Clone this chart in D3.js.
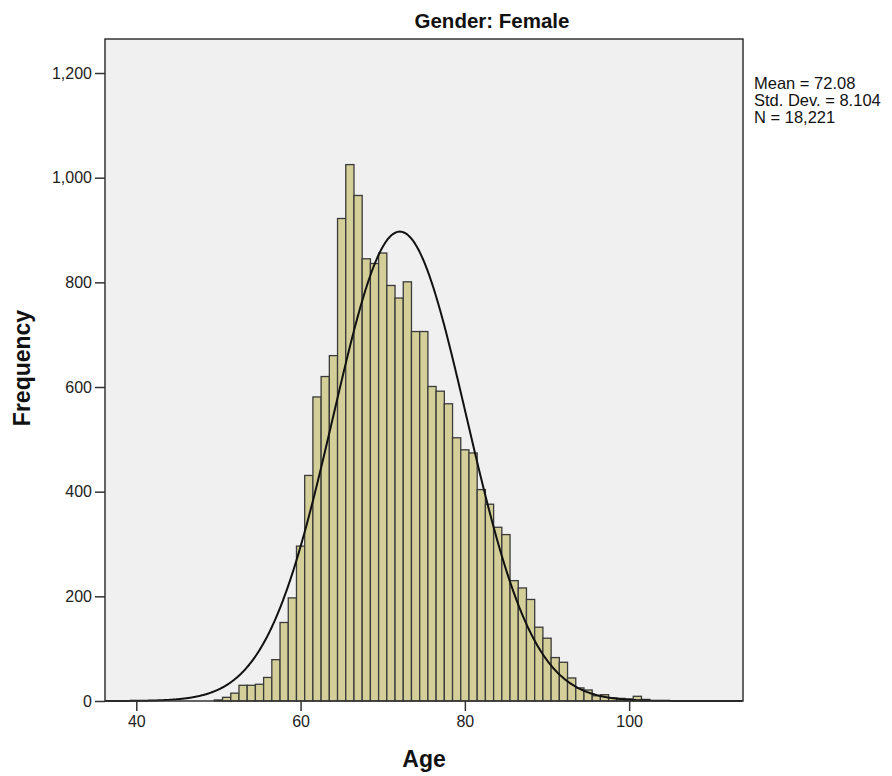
<!DOCTYPE html>
<html>
<head>
<meta charset="utf-8">
<script src="https://cdn.jsdelivr.net/npm/d3@7"></script>
<style>
  body { margin: 0; background: #fff; }
  svg { display: block; font-family: "Liberation Sans", Arial, sans-serif; }
</style>
</head>
<body>
<svg id="chart" width="892" height="776"></svg>
<script>
// Age histogram (1-year bins centred on whole ages)
const ages = [50, 51, 52, 53, 54, 55, 56, 57, 58, 59,
              60, 61, 62, 63, 64, 65, 66, 67, 68, 69,
              70, 71, 72, 73, 74, 75, 76, 77, 78, 79,
              80, 81, 82, 83, 84, 85, 86, 87, 88, 89,
              90, 91, 92, 93, 94, 95, 96, 97, 98, 99,
              100, 101, 102];
const counts = [2, 7, 15, 30, 30, 32, 45, 79, 150, 197,
                296, 431, 581, 620, 660, 922, 1025, 966, 845, 836,
                856, 794, 770, 801, 706, 706, 601, 592, 568, 503,
                480, 474, 404, 376, 332, 318, 230, 216, 194, 141,
                120, 83, 74, 44, 25, 21, 10, 12, 6, 5,
                4, 9, 3];

const xTicks = [40, 60, 80, 100];
const yTicks = [0, 200, 400, 600, 800, 1000, 1200];

const stats = { mean: 72.08, sd: 8.104, n: 18221 };
const statLines = ["Mean = 72.08", "Std. Dev. = 8.104", "N = 18,221"];
const title = "Gender: Female";
const xLabel = "Age";
const yLabel = "Frequency";

const svg = d3.select("#chart");
const plot = { left: 105, right: 743, top: 39, bottom: 701 };

const x = d3.scaleLinear().domain([36.19, 113.86]).range([plot.left, plot.right]);
const y = d3.scaleLinear().domain([0, 1265]).range([plot.bottom, plot.top]);

// plot background
svg.append("rect")
  .attr("x", plot.left).attr("y", plot.top)
  .attr("width", plot.right - plot.left).attr("height", plot.bottom - plot.top)
  .attr("fill", "#f0f0f0");

// bars
const bins = ages.map((a, i) => ({ age: a, count: counts[i] }));
svg.append("g").selectAll("rect").data(bins).join("rect")
  .attr("x", d => x(d.age - 0.5))
  .attr("width", d => x(d.age + 0.5) - x(d.age - 0.5))
  .attr("y", d => y(d.count))
  .attr("height", d => y(0) - y(d.count))
  .attr("fill", "#d4cf99")
  .attr("stroke", "#3a3a3a")
  .attr("stroke-width", 1.3);

// fitted normal curve scaled to counts per 1-year bin
const pdf = v => stats.n / (stats.sd * Math.sqrt(2 * Math.PI)) *
  Math.exp(-0.5 * Math.pow((v - stats.mean) / stats.sd, 2));
const xs = d3.range(36.19, 113.86, 0.1);
svg.append("path")
  .datum(xs)
  .attr("d", d3.line().x(v => x(v)).y(v => y(pdf(v))).curve(d3.curveBasis))
  .attr("fill", "none")
  .attr("stroke", "#111")
  .attr("stroke-width", 2);

// frame
svg.append("rect")
  .attr("x", plot.left).attr("y", plot.top)
  .attr("width", plot.right - plot.left).attr("height", plot.bottom - plot.top)
  .attr("fill", "none")
  .attr("stroke", "#333")
  .attr("stroke-width", 1.5);

// axes
const xAxis = d3.axisBottom(x).tickValues(xTicks).tickSize(10).tickPadding(5)
  .tickFormat(d3.format("d"));
const gx = svg.append("g").attr("transform", `translate(0,${plot.bottom})`).call(xAxis);
gx.select(".domain").remove();

const yAxis = d3.axisLeft(y).tickValues(yTicks).tickSize(10).tickPadding(3)
  .tickFormat(d3.format(","));
const gy = svg.append("g").attr("transform", `translate(${plot.left},0)`).call(yAxis);
gy.select(".domain").remove();

[gx, gy].forEach(g => {
  g.selectAll(".tick line").attr("stroke", "#333").attr("stroke-width", 1.5);
  g.selectAll(".tick text").attr("fill", "#222").style("font-size", "16px");
});

// title and axis titles
svg.append("text")
  .attr("x", 492).attr("y", 28)
  .attr("text-anchor", "middle")
  .style("font-size", "20.5px").style("font-weight", "bold")
  .attr("fill", "#111")
  .text(title);

svg.append("text")
  .attr("x", 424).attr("y", 767)
  .attr("text-anchor", "middle")
  .style("font-size", "23px").style("font-weight", "bold")
  .attr("fill", "#111")
  .text(xLabel);

svg.append("text")
  .attr("transform", "translate(30,368) rotate(-90)")
  .attr("text-anchor", "middle")
  .style("font-size", "23px").style("font-weight", "bold")
  .attr("fill", "#111")
  .text(yLabel);

// statistics legend
svg.append("g").selectAll("text").data(statLines).join("text")
  .attr("x", 754)
  .attr("y", (d, i) => 89 + i * 17)
  .style("font-size", "16.5px")
  .attr("fill", "#111")
  .text(d => d);
</script>
</body>
</html>
